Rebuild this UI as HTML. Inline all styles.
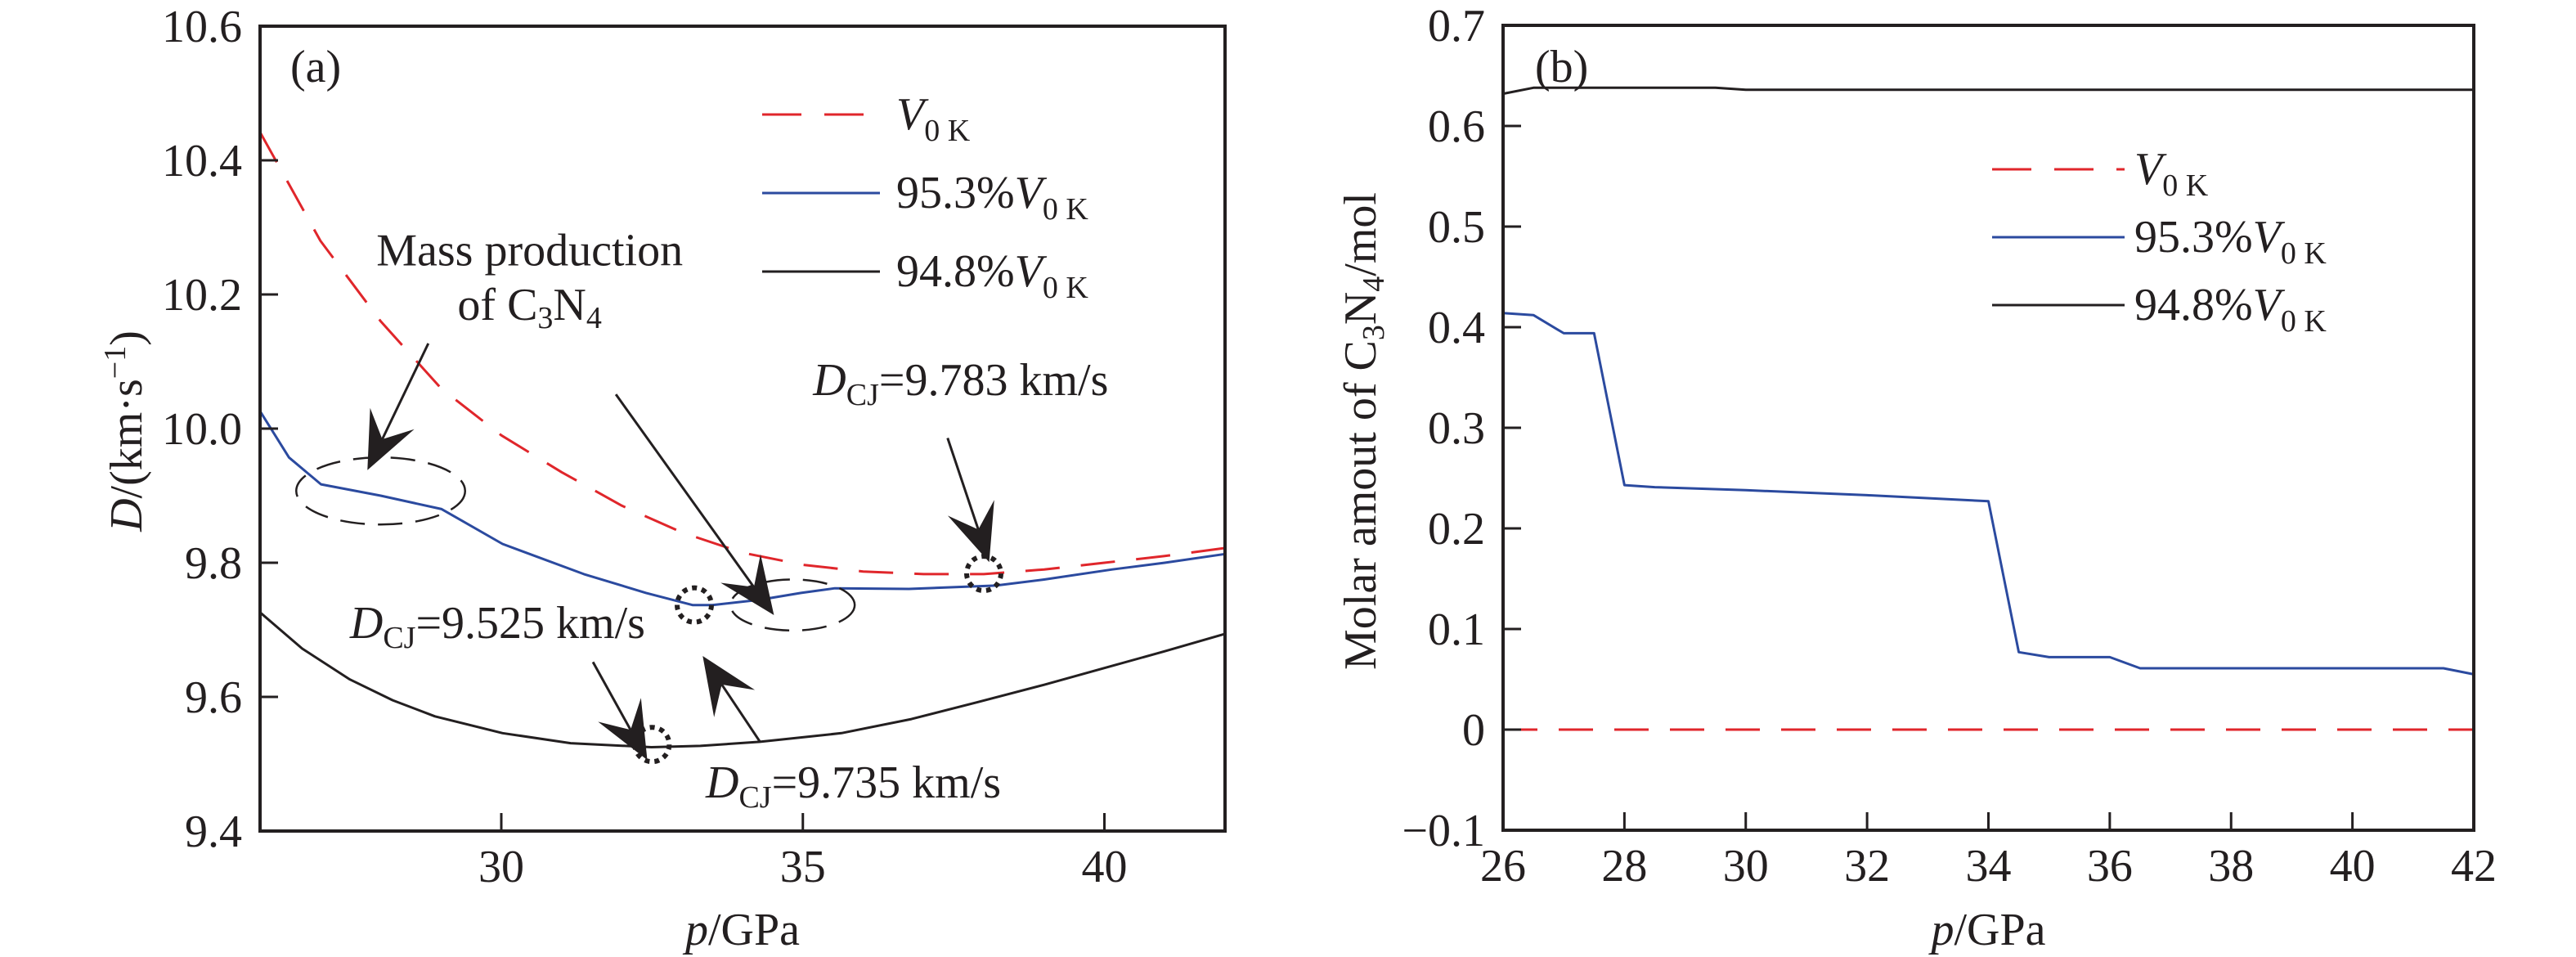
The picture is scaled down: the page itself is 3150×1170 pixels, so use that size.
<!DOCTYPE html>
<html><head><meta charset="utf-8">
<style>
html,body{margin:0;padding:0;background:#fff;}
svg{display:block;}
svg text{font-family:"Liberation Serif","DejaVu Serif","Noto Serif CJK SC",serif;fill:#231f20;}
</style></head>
<body>
<svg id="fig" width="3150" height="1170" viewBox="0 0 3150 1170" xmlns="http://www.w3.org/2000/svg">
<g id="pa"></g>
<g id="pb"></g>
</svg>
<script>
// ---- Panel (a) data ----
const aRedP = [26,27,28,29,30,31,32,33,34,35,36,37,38,39,40,41,42];
const aRedD = [10.442,10.28,10.16,10.06,9.99,9.935,9.885,9.845,9.815,9.797,9.787,9.783,9.783,9.79,9.80,9.81,9.822];
const aBlueP = [26,26.48,27.01,28,29.01,30.02,31.37,32.4,33.17,33.5,34.3,34.97,35.53,36.76,38.2,39,40.13,41,42];
const aBlueD = [10.026,9.957,9.917,9.9,9.88,9.828,9.783,9.755,9.737,9.737,9.745,9.755,9.762,9.761,9.766,9.775,9.790,9.80,9.813];
const aBlackP = [26,26.7,27.49,28.2,28.9,30.02,31.15,32.49,33.3,34.29,35.64,36.8,37.89,39,40,41,42];
const aBlackD = [9.726,9.672,9.626,9.595,9.571,9.546,9.531,9.525,9.527,9.533,9.546,9.567,9.592,9.618,9.643,9.668,9.694];
const aXTicks = [30,35,40];
const aYTicks = [9.4,9.6,9.8,10.0,10.2,10.4,10.6];
const aYTickLabels = ["9.4","9.6","9.8","10.0","10.2","10.4","10.6"];
// ---- Panel (b) data ----
const bRedP = [26,42];
const bRedN = [0,0];
const bBlueP = [26,26.5,27,27.5,28,28.5,30,32,34,34.5,35,36,36.5,41.5,42];
const bBlueN = [0.414,0.412,0.394,0.394,0.243,0.241,0.238,0.233,0.227,0.077,0.072,0.072,0.061,0.061,0.055];
const bBlackP = [26,26.5,29.5,30,42];
const bBlackN = [0.632,0.638,0.638,0.636,0.636];
const bXTicks = [26,28,30,32,34,36,38,40,42];
const bYTicks = [-0.1,0,0.1,0.2,0.3,0.4,0.5,0.6,0.7];
const bYTickLabels = ["\u22120.1","0","0.1","0.2","0.3","0.4","0.5","0.6","0.7"];

const NS="http://www.w3.org/2000/svg";
const RED="#e0262b", BLUE="#2b4a9f", BLK="#231f20";
function mk(parent,tag,attrs){const e=document.createElementNS(NS,tag);for(const k in attrs)e.setAttribute(k,attrs[k]);parent.appendChild(e);return e;}

const ax={x0:318,x1:1498,y0:32,y1:1016,pmin:26,pmax:42,dmin:9.4,dmax:10.6};
const bx={x0:1838,x1:3025,y0:31,y1:1015,pmin:26,pmax:42,dmin:-0.1,dmax:0.7};
function X(a,p){return a.x0+(p-a.pmin)/(a.pmax-a.pmin)*(a.x1-a.x0);}
function Y(a,d){return a.y1-(d-a.dmin)/(a.dmax-a.dmin)*(a.y1-a.y0);}

function series(g,a,P,V,color,dash,name){
  const pts=P.map((p,i)=>X(a,p).toFixed(1)+","+Y(a,V[i]).toFixed(1)).join(" ");
  const l=mk(g,"polyline",{points:pts,fill:"none",stroke:color,"stroke-width":3,"stroke-linejoin":"round"});
  if(dash)l.setAttribute("stroke-dasharray",dash);
  
  
}
function txt(g,attrs){return mk(g,"text",Object.assign({"font-size":56},attrs));}
function frame(g,a,xt,xl,yt,yl,name){
  const r=mk(g,"rect",{x:a.x0,y:a.y0,width:a.x1-a.x0,height:a.y1-a.y0,fill:"none",stroke:BLK,"stroke-width":4});
  
  
  xt.forEach((t,i)=>{
    const x=X(a,t);
    const tk=mk(g,"line",{x1:x,x2:x,y1:a.y1,y2:a.y1-22,stroke:BLK,"stroke-width":3});
    
    
    const tx=txt(g,{x:x,y:a.y1+62,"text-anchor":"middle"});
    tx.textContent=xl[i];
    
    
  });
  yt.forEach((t,i)=>{
    const y=Y(a,t);
    const tk=mk(g,"line",{x1:a.x0,x2:a.x0+22,y1:y,y2:y,stroke:BLK,"stroke-width":3});
    
    
    const tx=txt(g,{x:a.x0-22,y:y+19,"text-anchor":"end"});
    tx.textContent=yl[i];
    
    
  });
}
function rich(g,x,y,html,attrs,name){
  const t=txt(g,Object.assign({x:x,y:y},attrs||{}));
  t.innerHTML=html;
  
  
  return t;
}
const V0K='<tspan font-style="italic">V</tspan><tspan font-size="38" dy="14">0 K</tspan>';
function legend(g,x1,x2,tx,ys,name){
  const cols=[RED,BLUE,BLK], dashes=["48 28",null,null];
  const labels=[V0K,'95.3%'+V0K,'94.8%'+V0K];
  ys.forEach((y,i)=>{
    const l=mk(g,"line",{x1:x1,x2:x2,y1:y,y2:y,stroke:cols[i],"stroke-width":3});
    if(dashes[i])l.setAttribute("stroke-dasharray",dashes[i]);
    
    
    rich(g,tx,y+18,labels[i],{},'legend-label-'+i);
  });
}
function arrow(g,a,p1,d1,p2,d2){
  const x1=X(a,p1),y1=Y(a,d1),x2=X(a,p2),y2=Y(a,d2);
  const dx=x2-x1,dy=y2-y1,L=Math.hypot(dx,dy),ux=dx/L,uy=dy/L,nx=-uy,ny=ux;
  const hl=70,hw=30,notch=42;
  const bx1=x2-ux*hl,by1=y2-uy*hl;
  const l=mk(g,"line",{x1:x1,y1:y1,x2:x2-ux*notch,y2:y2-uy*notch,stroke:BLK,"stroke-width":3});
  
  
  const pts=[[x2,y2],[bx1+nx*hw,by1+ny*hw],[x2-ux*notch,y2-uy*notch],[bx1-nx*hw,by1-ny*hw]];
  const h=mk(g,"polygon",{points:pts.map(q=>q[0].toFixed(1)+","+q[1].toFixed(1)).join(" "),fill:BLK});
  
  
}

// ---------- Panel a ----------
const ga=document.getElementById("pa");
series(ga,ax,aRedP,aRedD,RED,"42 26","series-v0k");
series(ga,ax,aBlueP,aBlueD,BLUE,null,"series-95-3");
series(ga,ax,aBlackP,aBlackD,BLK,null,"series-94-8");
frame(ga,ax,aXTicks,aXTicks.map(String),aYTicks,aYTickLabels,"axes-a");
[[28.0,9.907,1.40,0.05],[34.83,9.737,1.03,0.038]].forEach(e=>{
  const el=mk(ga,"ellipse",{cx:X(ax,e[0]),cy:Y(ax,e[1]),rx:e[2]*73.75,ry:e[3]*820,fill:"none",stroke:BLK,"stroke-width":2.5,"stroke-dasharray":"30 16"});
  
  
});
[[38,9.784],[33.2,9.737],[32.5,9.529]].forEach(c=>{
  const el=mk(ga,"circle",{cx:X(ax,c[0]),cy:Y(ax,c[1]),r:21,fill:"none",stroke:BLK,"stroke-width":6,"stroke-dasharray":"6 6"});
  
  
});
arrow(ga,ax,28.79,10.127,27.78,9.938);
arrow(ga,ax,31.9,10.051,34.52,9.722);
arrow(ga,ax,37.4,9.986,38.09,9.801);
arrow(ga,ax,31.52,9.652,32.42,9.506);
arrow(ga,ax,34.29,9.533,33.34,9.661);
rich(ga,355,100,'(a)',{},'panel-a-label');
rich(ga,X(ax,30.47),Y(ax,10.243),'Mass production',{"text-anchor":"middle"},'annotation-mass-production');
rich(ga,X(ax,30.47),Y(ax,10.162),'of C<tspan font-size="38" dy="10">3</tspan><tspan dy="-10">N</tspan><tspan font-size="38" dy="10">4</tspan>',{"text-anchor":"middle"},'annotation-c3n4');
const DCJ='<tspan font-style="italic">D</tspan><tspan font-size="38" dy="12">CJ</tspan><tspan dy="-12">=';
rich(ga,X(ax,35.17),Y(ax,10.05),DCJ+'9.783 km/s</tspan>',{},'annotation-dcj-9783');
rich(ga,X(ax,27.49),Y(ax,9.688),DCJ+'9.525 km/s</tspan>',{},'annotation-dcj-9525');
rich(ga,X(ax,33.39),Y(ax,9.45),DCJ+'9.735 km/s</tspan>',{},'annotation-dcj-9735');
legend(ga,932,1076,1096,[140,236,332],'legend-a');
rich(ga,153,547,'<tspan font-style="italic">D</tspan>/(km·s<tspan font-size="38" dy="-20">−1</tspan><tspan dy="20">)</tspan>',{"text-anchor":"middle",transform:"rotate(-90 153 527)"},'y-axis-title-a');
rich(ga,(ax.x0+ax.x1)/2,1155,'<tspan font-style="italic">p</tspan>/GPa',{"text-anchor":"middle"},'x-axis-title-a');

// ---------- Panel b ----------
const gb=document.getElementById("pb");
series(gb,bx,bRedP,bRedN,RED,"42 26","series-v0k-b");
series(gb,bx,bBlueP,bBlueN,BLUE,null,"series-95-3-b");
series(gb,bx,bBlackP,bBlackN,BLK,null,"series-94-8-b");
frame(gb,bx,bXTicks,bXTicks.map(String),bYTicks,bYTickLabels,"axes-b");
rich(gb,1877,100,'(b)',{},'panel-b-label');
legend(gb,2436,2598,2610,[207,290,373],'legend-b');
rich(gb,1662,547,'Molar amout of C<tspan font-size="38" dy="10">3</tspan><tspan dy="-10">N</tspan><tspan font-size="38" dy="10">4</tspan><tspan dy="-10">/mol</tspan>',{"text-anchor":"middle",transform:"rotate(-90 1662 527)"},'y-axis-title-b');
rich(gb,(bx.x0+bx.x1)/2,1155,'<tspan font-style="italic">p</tspan>/GPa',{"text-anchor":"middle"},'x-axis-title-b');
</script>
</body></html>
